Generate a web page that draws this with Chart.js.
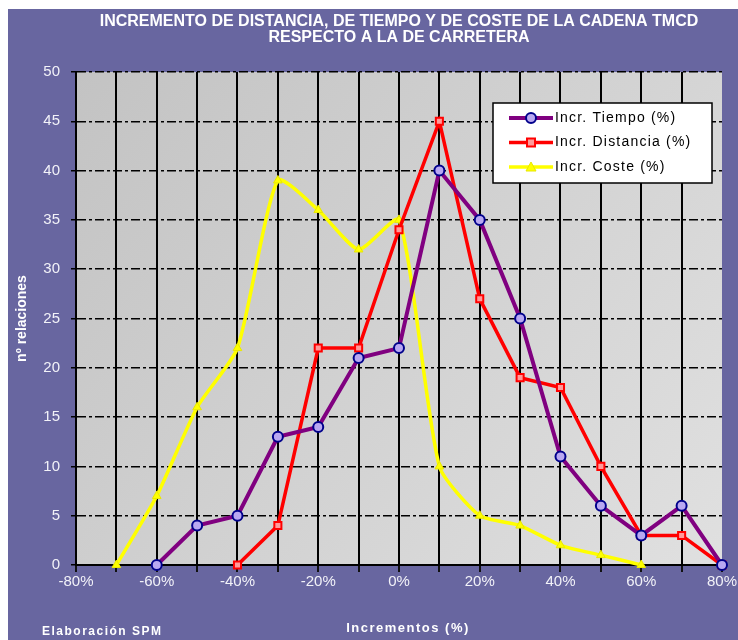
<!DOCTYPE html>
<html>
<head>
<meta charset="utf-8">
<script src="https://cdn.jsdelivr.net/npm/chart.js@4.4.0/dist/chart.umd.min.js"></script>
<style>
  body { margin: 0; background: #fff; }
  #chartDiv { position: absolute; left: 8px; top: 9px; width: 730px; height: 631px; background: #6866a0; }
</style>
</head>
<body>
<div id="chartDiv"><canvas id="myChart" width="730" height="631"></canvas></div>
<script>
// incrementos (%) on the x axis
const increments = [-70, -60, -50, -40, -30, -20, -10, 0, 10, 20, 30, 40, 50, 60, 70, 80];
// nº relaciones per series (null = no point)
const tiempo    = [null, 0, 4, 5, 13, 14, 21, 22, 40, 35, 25, 11, 6, 3, 6, 0];
const distancia = [null, null, null, 0, 4, 22, 22, 34, 45, 27, 19, 18, 10, 3, 3, 0];
const coste     = [0, 7, 16, 22, 39, 36, 32, 35, 10, 5, 4, 2, 1, 0, null, null];

const seriesLabels = ['Incr. Tiempo (%)', 'Incr. Distancia (%)', 'Incr. Coste (%)'];
const titleLines = ['INCREMENTO DE DISTANCIA, DE TIEMPO Y DE COSTE DE LA CADENA TMCD', 'RESPECTO A LA DE CARRETERA'];

const FONT = '"Liberation Sans", Arial, sans-serif';

function toPoints(values) {
  return increments.map((x, i) => ({ x: x, y: values[i] })).filter(p => p.y !== null);
}

var ctx = document.getElementById('myChart');

// plot background + legend box + extra texts
const extras = {
  id: 'extras',
  beforeDraw(chart) {
    const c = chart.ctx, a = chart.chartArea;
    const g = c.createLinearGradient(a.left, a.top, a.right, a.bottom);
    g.addColorStop(0, '#c3c3c3');
    g.addColorStop(1, '#e0e0e0');
    c.save();
    c.fillStyle = g;
    c.fillRect(a.left, a.top, a.right - a.left, a.bottom - a.top);
    c.restore();
  },
  afterDraw(chart) {
    const c = chart.ctx;
    c.save();
    // legend
    const lx = 485, ly = 94, lw = 219, lh = 80;
    c.fillStyle = '#fff';
    c.fillRect(lx, ly, lw, lh);
    c.strokeStyle = '#000';
    c.lineWidth = 1.5;
    c.strokeRect(lx, ly, lw, lh);
    c.font = '14px ' + FONT;
    c.letterSpacing = '1.2px';
    c.textBaseline = 'middle';
    chart.data.datasets.forEach((ds, i) => {
      const y = ly + 15 + i * 24.5;
      c.strokeStyle = ds.borderColor;
      c.lineWidth = ds.borderWidth;
      c.beginPath();
      c.moveTo(lx + 16, y);
      c.lineTo(lx + 60, y);
      c.stroke();
      const mx = lx + 38;
      c.fillStyle = ds.pointBackgroundColor;
      c.strokeStyle = ds.pointBorderColor;
      c.lineWidth = ds.pointBorderWidth;
      c.beginPath();
      if (ds.pointStyle === 'circle') c.arc(mx, y, 5, 0, Math.PI * 2);
      else if (ds.pointStyle === 'rect') c.rect(mx - 4, y - 4, 8, 8);
      else { c.moveTo(mx, y - 5); c.lineTo(mx + 5, y + 4); c.lineTo(mx - 5, y + 4); c.closePath(); }
      c.fill();
      c.stroke();
      c.fillStyle = '#000';
      c.textAlign = 'left';
      c.fillText(ds.label, lx + 62, y);
    });
    // x title and footer
    c.fillStyle = '#fff';
    c.letterSpacing = '1.5px';
    c.font = 'bold 13px ' + FONT;
    c.textAlign = 'center';
    c.fillText('Incrementos (%)', 400, 619);
    c.font = 'bold 12px ' + FONT;
    c.textAlign = 'left';
    c.fillText('Elaboración SPM', 34, 623);
    c.restore();
  }
};

var StockChart = new Chart(ctx, {
  type: 'line',
  data: {
    datasets: [
      {
        label: seriesLabels[0], data: toPoints(tiempo),
        borderColor: '#800080', borderWidth: 4,
        pointStyle: 'circle', pointRadius: 5,
        pointBackgroundColor: '#b9a8f2', pointBorderColor: '#00008b', pointBorderWidth: 2
      },
      {
        label: seriesLabels[1], data: toPoints(distancia),
        borderColor: '#ff0000', borderWidth: 3.5,
        pointStyle: 'rect', pointRadius: 5,
        pointBackgroundColor: '#ff9a9a', pointBorderColor: '#ff0000', pointBorderWidth: 2
      },
      {
        label: seriesLabels[2], data: toPoints(coste),
        borderColor: '#ffff00', borderWidth: 3.5, tension: 0.2,
        pointStyle: 'triangle', pointRadius: 5,
        pointBackgroundColor: '#ffff00', pointBorderColor: '#e8e800', pointBorderWidth: 1
      }
    ]
  },
  options: {
    responsive: false,
    animation: false,
    clip: false,
    layout: { padding: { left: 0, right: 11, top: 0, bottom: 0 } },
    plugins: {
      legend: { display: false },
      tooltip: { enabled: false },
      title: {
        display: true, fullSize: false,
        text: titleLines,
        color: '#fff',
        font: { family: FONT, size: 16, weight: 'bold', lineHeight: 1.0 },
        padding: { top: 5, bottom: 26 }
      }
    },
    scales: {
      x: {
        type: 'linear', min: -80, max: 80,
        ticks: {
          stepSize: 10, autoSkip: false, maxRotation: 0, padding: 1,
          color: '#f2f2f8',
          font: { family: FONT, size: 15 },
          callback: v => (v % 20 === 0 ? v + '%' : '')
        },
        grid: {
          color: c => (c.tick && c.tick.value === 80 ? 'rgba(0,0,0,0)' : '#000'),
          tickColor: '#111', lineWidth: 2, tickLength: 7
        },
        border: { display: true, color: '#000', width: 2 },
        afterFit: s => { s.height = 75; }
      },
      y: {
        min: 0, max: 50,
        ticks: {
          stepSize: 5, padding: 11, color: '#f2f2f8',
          font: { family: FONT, size: 15 }
        },
        grid: { color: '#000', lineWidth: 1.5, tickLength: 5 },
        border: { display: true, color: '#000', width: 2, dash: [9, 3, 3, 3] },
        title: {
          display: true, text: 'nº relaciones', color: '#fff',
          font: { family: FONT, size: 14, weight: 'bold' },
          padding: { top: 6, bottom: 0 }
        },
        afterFit: s => { s.width = 68; }
      }
    }
  },
  plugins: [extras]
});
</script>
</body>
</html>
